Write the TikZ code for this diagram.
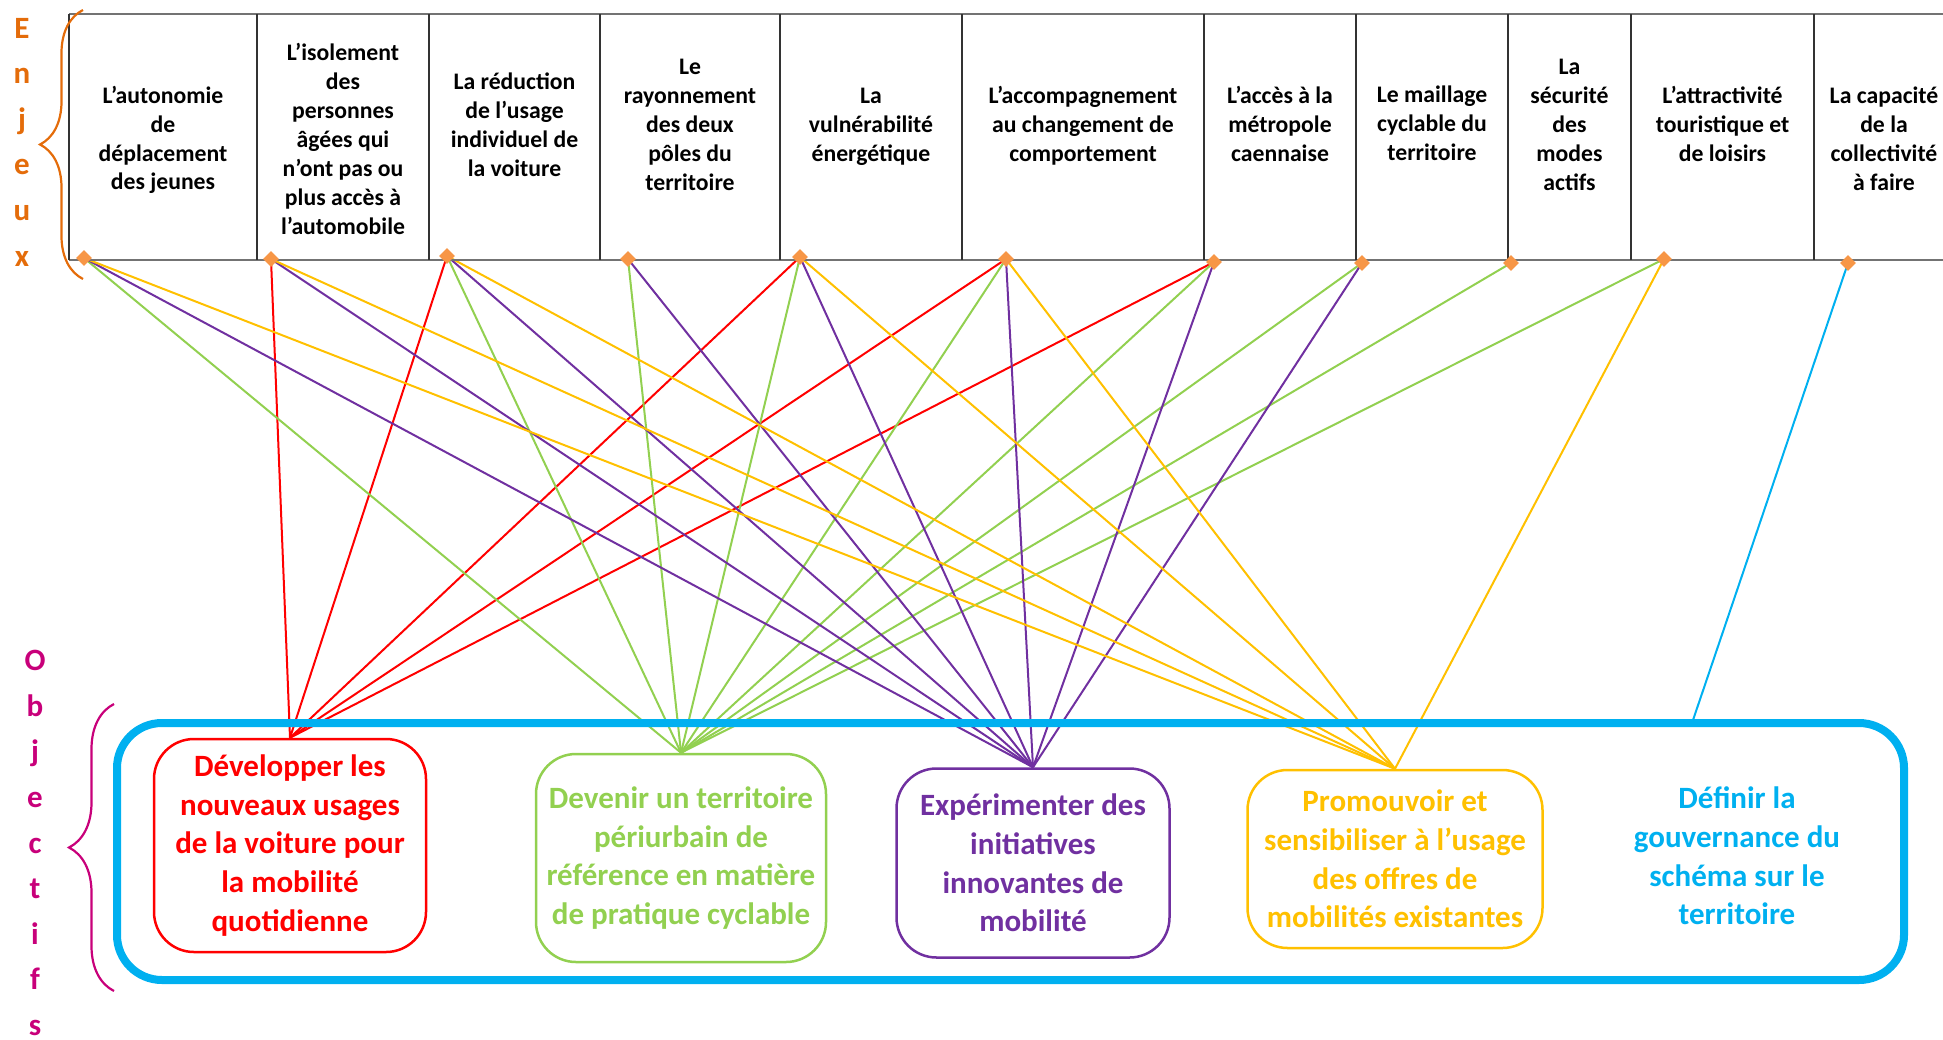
\documentclass[tikz,border=0pt]{standalone}
\usepackage{fontspec}
\setmainfont{Carlito}
\usetikzlibrary{shapes.geometric,decorations.pathreplacing,backgrounds}

\definecolor{rouge}{HTML}{FF0000}
\definecolor{vert}{HTML}{92D050}
\definecolor{pourpre}{HTML}{7030A0}
\definecolor{jaune}{HTML}{FFC000}
\definecolor{bleu}{HTML}{00B0F0}
\definecolor{orangeE}{HTML}{E46C0A}
\definecolor{magentaO}{HTML}{C8007A}
\definecolor{losange}{HTML}{F79646}

\tikzset{
  enjeu/.style={align=center, inner sep=0pt, font=\bfseries\fontsize{23.7}{28.9}\selectfont},
  objectif/.style={draw=#1, text=#1, rounded corners=40pt, line width=2.5pt, align=center,
    inner sep=0pt, font=\bfseries\fontsize{31}{38.6}\selectfont},
  pastille/.style={diamond, fill=losange, inner sep=0pt, minimum width=16pt, minimum height=16pt},
  lien/.style={line width=2pt, draw=#1},
  titre/.style={align=center, inner sep=0pt, text=#1, font=\bfseries\fontsize{31}{45.6}\selectfont},
  accolade/.style={decorate, decoration={brace, amplitude=#1}, line width=2.2pt}
}

\begin{document}
\begin{tikzpicture}[x=1pt, y=-1pt]
\useasboundingbox (0,0) rectangle (1943,1039);

% tableau des enjeux
\draw[line width=1.8pt, black!55] (69,14) -- (1943,14) (69,260) -- (1943,260);
\foreach \x in {69,257,429,600,780,962,1204,1356,1508,1631,1814}
  \draw[line width=1.5pt, black!80] (\x,14) -- (\x,260);

\node[enjeu] (e1) at (163,140) {L’autonomie\\de\\déplacement\\des jeunes};
\node[enjeu] (e2) at (343,139) {L’isolement\\des\\personnes\\âgées qui\\n’ont pas ou\\plus accès à\\l’automobile};
\node[enjeu] (e3) at (514.5,125) {La réduction\\de l’usage\\individuel de\\la voiture};
\node[enjeu] (e4) at (690,125) {Le\\rayonnement\\des deux\\pôles du\\territoire};
\node[enjeu] (e5) at (871,127) {La\\vulnérabilité\\énergétique};
\node[enjeu] (e6) at (1083,126) {L’accompagnement\\au changement de\\comportement};
\node[enjeu] (e7) at (1280,124) {L’accès à la\\métropole\\caennaise};
\node[enjeu] (e8) at (1432,123) {Le maillage\\cyclable du\\territoire};
\node[enjeu] (e9) at (1569.5,125) {La\\sécurité\\des\\modes\\actifs};
\node[enjeu] (e10) at (1722.5,124) {L’attractivité\\touristique et\\de loisirs};
\node[enjeu] (e11) at (1884,139) {La capacité\\de la\\collectivité\\à faire};

% pastilles
\foreach \i/\x/\y in {1/84/258, 2/271/259, 3/447/256, 4/628/259, 5/800/257, 6/1006/259,
    7/1214/262, 8/1362/263, 9/1511/263, 10/1664/259, 11/1848/263}
  \node[pastille] (d\i) at (\x,\y) {};

% titres et accolades
\node[titre=orangeE] (enjeux) at (22,142) {E\\n\\j\\e\\u\\x};
\node[titre=magentaO] (objectifs) at (35,843) {O\\b\\j\\e\\c\\t\\i\\f\\s};
\draw[accolade=43pt, orangeE] (83,279) -- (83,10);
\draw[accolade=45pt, magentaO] (114,991) -- (114,704);

% objectifs
\node[draw=bleu, line width=8pt, rounded corners=45pt, minimum width=1787pt,
  minimum height=257pt, inner sep=0pt] (cadre) at (1010.5,851.5) {};
\coordinate (gtop) at (1692,723);

\node[objectif=rouge, minimum width=272pt, minimum height=213pt] (ovoit) at (290,845.5)
  {Développer les\\nouveaux usages\\de la voiture pour\\la mobilité\\quotidienne};
\node[objectif=vert, minimum width=290pt, minimum height=208pt] (ocycl) at (681,858)
  {Devenir un territoire\\périurbain de\\référence en matière\\de pratique cyclable};
\node[objectif=pourpre, minimum width=273pt, minimum height=189pt] (oinno) at (1033,863)
  {Expérimenter des\\initiatives\\innovantes de\\mobilité};
\node[objectif=jaune, minimum width=295pt, minimum height=178pt] (oprom) at (1395,859)
  {Promouvoir et\\sensibiliser à l’usage\\des offres de\\mobilités existantes};
\node[objectif=bleu, draw=none] (ogouv) at (1737,856)
  {Définir la\\gouvernance du\\schéma sur le\\territoire};

% liens enjeux -> objectifs
\begin{pgfonlayer}{background}
  \foreach \i in {2,3,5,6,7}
    \draw[lien=rouge] (d\i.center) -- (ovoit.north);
  \foreach \i in {1,3,4,5,6,7,8,9,10}
    \draw[lien=vert] (d\i.center) -- (ocycl.north);
  \foreach \i in {1,2,3,4,5,6,7,8}
    \draw[lien=pourpre] (d\i.center) -- (oinno.north);
  \foreach \i in {1,2,3,5,6,10}
    \draw[lien=jaune] (d\i.center) -- (oprom.north);
  \draw[lien=bleu] (d11.center) -- (gtop);
\end{pgfonlayer}
\end{tikzpicture}
\end{document}
